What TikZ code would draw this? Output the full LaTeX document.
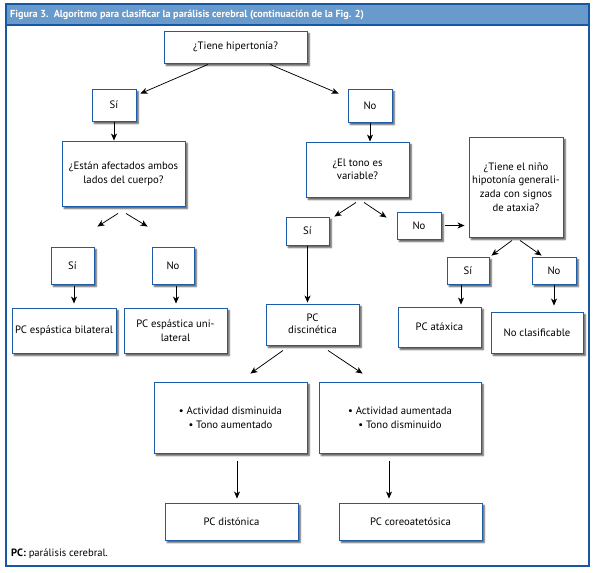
\documentclass[tikz,border=0pt]{standalone}
\usepackage{fontspec}
\setmainfont{PT Sans}
\usetikzlibrary{calc,arrows.meta,shadows.blur}
\definecolor{frameblue}{RGB}{22,88,164}
\definecolor{headblue}{RGB}{104,154,204}
\definecolor{boxblue}{RGB}{28,92,168}
\tikzset{
  box/.style={draw=boxblue, line width=0.9pt, fill=white, align=center, inner sep=1pt,
    font=\fontsize{10.7}{13.6}\selectfont,
    blur shadow={shadow xshift=2.2pt, shadow yshift=-2.5pt, shadow blur steps=6, shadow blur radius=1.6pt, shadow opacity=70}},
  arr/.style={draw=black, line width=0.75pt, -{Stealth[length=7pt,width=6pt,inset=2pt]}},
}
\newcommand{\bx}[5]{\node[box, minimum width=#3, minimum height=#4] (#1) at (#2) {#5};}
\begin{document}
\begin{tikzpicture}[x=1pt,y=-1pt]
\useasboundingbox (0,0) rectangle (596,572);
% frame and header
\fill[headblue] (6,4) rectangle (589,25);
\draw[frameblue, line width=1.2pt] (6,4) rectangle (589,566);
\draw[frameblue, line width=1.2pt] (6,25) -- (589,25);
\node[anchor=west, text=white, inner sep=0pt, font=\fontsize{10.2}{12}\selectfont\bfseries] (title) at (10,15) {Figura 3.\ \ Algoritmo para clasificar la parálisis cerebral (continuación de la Fig. 2)};
\node[anchor=west, inner sep=0pt, font=\fontsize{10.6}{12}\selectfont] (foot) at (11,554) {\textbf{PC:} parálisis cerebral.};
% nodes
\bx{q1}{235.5,47}{143pt}{32pt}{¿Tiene hipertonía?}
\bx{si1}{114,105}{44pt}{32pt}{Sí}
\bx{no1}{370,105.5}{44pt}{33pt}{No}
\bx{q2}{123.5,173.5}{123pt}{65pt}{¿Están afectados ambos\\lados del cuerpo?}
\bx{q3}{357.5,169.5}{103pt}{55pt}{¿El tono es\\variable?}
\bx{si2}{72.5,265.5}{43pt}{37pt}{Sí}
\bx{no2}{173,265.5}{42pt}{37pt}{No}
\bx{si3}{307.5,231}{43pt}{28pt}{Sí}
\bx{no3}{419,225.5}{44pt}{27pt}{No}
\bx{q4}{516,187}{94pt}{100pt}{¿Tiene el niño\\hipotonía generali-\\zada con signos\\de ataxia?}
\bx{si4}{468,270.5}{42pt}{27pt}{Sí}
\bx{no4}{554,270.5}{44pt}{27pt}{No}
\bx{r1}{64,330.5}{104pt}{45pt}{PC espástica bilateral}
\bx{r2}{175.5,330.5}{103pt}{45pt}{PC espástica uni-\\lateral}
\bx{r3}{312.5,324.5}{93pt}{41pt}{\raisebox{8pt}{\begin{tabular}{@{}c@{}}PC\\[-1.5pt]discinética\end{tabular}}}
\bx{r4}{439.5,327}{83pt}{40pt}{PC atáxica}
\bx{r5}{537,332.5}{92pt}{41pt}{No clasificable}
\bx{b1}{230.5,417.5}{153pt}{71pt}{• Actividad disminuida\\• Tono aumentado}
\bx{b2}{400,417.5}{162pt}{71pt}{• Actividad aumentada\\• Tono disminuido}
\bx{r6}{231.5,521.5}{133pt}{37pt}{PC distónica}
\bx{r7}{410.5,521.5}{143pt}{37pt}{PC coreoatetósica}
% connectors
\draw[arr] ($(q1.south)+(-27.5,1)$) -- ($(si1.north east)+(4,5)$);
\draw[arr] ($(q1.south)+(34.5,1)$) -- ($(no1.north west)+(-9,5)$);
\draw[arr] ($(si1.south)+(0,1)$) -- (si1.south |- q2.north);
\draw[arr] ($(no1.south)+(0,1)$) -- (no1.south |- q3.north);
\draw[arr] ($(q2.south)+(-5.5,7)$) -- ($(si2.north east)+(3,-20)$);
\draw[arr] ($(q2.south)+(2.5,7)$) -- ($(no2.north west)+(-4,-20)$);
\draw[arr] ($(q3.south)+(-1.5,5)$) -- ($(si3.north east)+(5,0)$);
\draw[arr] ($(q3.south)+(6.5,5)$) -- ($(no3.north west)+(-10,6)$);
\draw[arr] ($(no3.east)+(4,0)$) -- ($(q4.west |- no3.east)+(-4,0)$);
\draw[arr] ($(q4.south)+(-4,3)$) -- ($(si4.north east)+(2,-1)$);
\draw[arr] ($(q4.south)+(4,3)$) -- ($(no4.north west)+(10,-1)$);
\draw[arr] ($(si2.south)+(1.5,2)$) -- ($(si2.south |- r1.north)+(1.5,-4)$);
\draw[arr] ($(no2.south)+(3,2)$) -- ($(no2.south |- r2.north)+(3,-4)$);
\draw[arr] ($(si4.south)+(-7,1)$) -- ($(si4.south |- r4.north)+(-7,-2)$);
\draw[arr] ($(no4.south)+(0,1)$) -- ($(no4.south |- r5.north)+(0,-6)$);
\draw[arr] ($(si3.south)+(0,1)$) -- ($(si3.south |- r3.north)+(0,-1)$);
\draw[arr] ($(r3.south)+(-29.5,5)$) -- ($(b1.north east)+(-57,-8)$);
\draw[arr] ($(r3.south)+(15.5,5)$) -- ($(b2.north west)+(44,-8)$);
\draw[arr] ($(b1.south)+(6.5,8)$) -- ($(r6.north)+(5.5,-4)$);
\draw[arr] ($(b2.south)+(-11,8)$) -- ($(r7.north)+(-21.5,-4)$);
\end{tikzpicture}
\end{document}
